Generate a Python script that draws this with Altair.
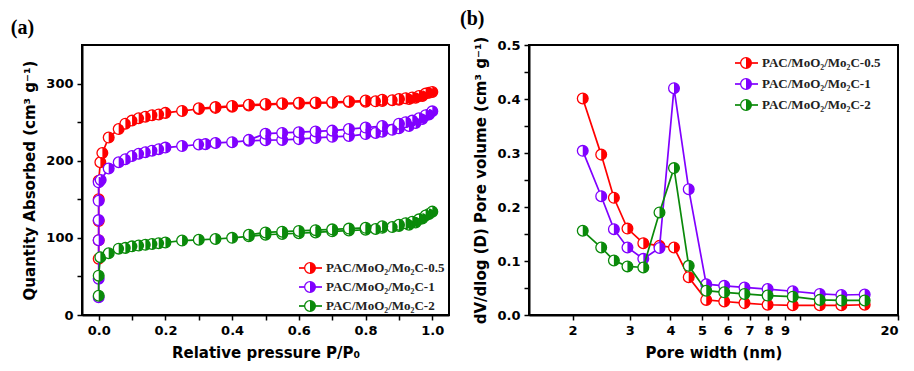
import altair as alt
import pandas as pd

# ---------------- data ----------------
SAMPLES = ["PAC/MoO₂/Mo₂C-0.5", "PAC/MoO₂/Mo₂C-1", "PAC/MoO₂/Mo₂C-2"]
COLORS = ["#FF0000", "#8000FF", "#0A8A0A"]

# (a) N2 isotherms: adsorption / desorption branches
red_ads_p = [0.0, 0.0, 0.0, 0.0, 0.0, 0.005, 0.011, 0.03, 0.06, 0.08, 0.10, 0.12, 0.14, 0.16, 0.18, 0.20,
             0.25, 0.30, 0.35, 0.40, 0.45, 0.50, 0.55, 0.60, 0.65, 0.70, 0.75, 0.80, 0.83, 0.85, 0.88,
             0.90, 0.93, 0.95, 0.97, 0.99]
red_ads_q = [73, 97, 122, 150, 174, 198, 210, 230, 241, 248, 252, 255, 257, 259, 260, 262,
             264.5, 267, 268.5, 270, 271.5, 272.5, 273.5, 274, 274.5, 275, 276, 276.5, 277, 277.5, 278.5,
             279, 280, 281.5, 284, 288]
red_des_p = [1.0, 0.98, 0.96, 0.94, 0.92, 0.90, 0.85, 0.80, 0.75, 0.70, 0.65, 0.60, 0.55, 0.50, 0.45, 0.40, 0.35, 0.30]
red_des_q = [289, 287, 284, 282, 281, 280, 279, 278, 277, 276, 275.5, 275, 274.5, 273.5, 272.5, 271, 269.5, 268]

pur_ads_p = [0.0, 0.0, 0.0, 0.0, 0.0, 0.0, 0.006, 0.03, 0.06, 0.08, 0.10, 0.12, 0.14, 0.16, 0.18, 0.20,
             0.25, 0.30, 0.32, 0.35, 0.40, 0.45, 0.50, 0.55, 0.60, 0.65, 0.70, 0.75, 0.80, 0.83, 0.85,
             0.88, 0.90, 0.93, 0.95, 0.97, 0.99]
pur_ads_q = [23, 47, 97, 123, 148, 172, 175, 190, 198, 202, 206, 209, 211, 213, 215, 217,
             219, 221, 221.5, 223, 224, 226, 226.5, 227, 228, 229.5, 231, 232, 234.5, 236, 237.5,
             240, 242, 245, 249, 254, 260]
pur_des_p = [1.0, 0.98, 0.96, 0.94, 0.92, 0.90, 0.85, 0.80, 0.75, 0.70, 0.65, 0.60, 0.55, 0.50, 0.45]
pur_des_q = [264, 259, 255, 252, 250, 248, 245, 243, 241, 239, 238, 237, 236, 235, 227]

grn_ads_p = [0.0, 0.0, 0.005, 0.03, 0.06, 0.08, 0.10, 0.12, 0.14, 0.16, 0.18, 0.20, 0.25, 0.30, 0.35, 0.40,
             0.45, 0.50, 0.55, 0.60, 0.65, 0.70, 0.75, 0.80, 0.83, 0.85, 0.88, 0.90, 0.93, 0.95, 0.97, 0.99]
grn_ads_q = [25, 51, 75, 80, 86, 87, 89, 90, 91, 92, 93, 94, 96.5, 97.5, 98.5, 100,
             102, 104, 105, 106, 107, 108.5, 109.5, 110.5, 111.5, 113, 114, 115.5, 117, 120, 125, 131]
grn_des_p = [1.0, 0.98, 0.96, 0.94, 0.92, 0.90, 0.85, 0.80, 0.75, 0.70, 0.65, 0.60, 0.55, 0.50, 0.45]
grn_des_q = [134, 129, 124, 121, 119, 117, 115, 113, 112, 111, 110, 109, 108, 107, 104]

# (b) pore size distribution
PORE_W = [2.15, 2.45, 2.68, 2.95, 3.3, 3.7, 4.1, 4.55, 5.15, 5.85, 6.75, 7.95, 9.5, 11.5, 13.4, 15.8]
red_psd = [0.401, 0.297, 0.217, 0.160, 0.133, 0.128, 0.125, 0.070, 0.028, 0.025, 0.022, 0.019, 0.018, 0.018, 0.018, 0.019]
pur_psd = [0.304, 0.220, 0.159, 0.125, 0.104, 0.124, 0.420, 0.233, 0.057, 0.054, 0.051, 0.048, 0.044, 0.039, 0.037, 0.038]
grn_psd = [0.156, 0.125, 0.101, 0.090, 0.088, 0.190, 0.272, 0.091, 0.045, 0.042, 0.039, 0.036, 0.034, 0.028, 0.027, 0.027]

A_XTICKS = [0.0, 0.1, 0.2, 0.3, 0.4, 0.5, 0.6, 0.7, 0.8, 0.9, 1.0]
A_YTICKS = [0, 50, 100, 150, 200, 250, 300]
B_XTICKS = [2, 3, 4, 5, 6, 7, 8, 9, 10, 20]
B_YTICKS = [0, 0.05, 0.1, 0.15, 0.2, 0.25, 0.3, 0.35, 0.4, 0.45, 0.5]

# ---------------- tables ----------------
iso = {
    SAMPLES[0]: [(red_ads_p, red_ads_q), (red_des_p, red_des_q)],
    SAMPLES[1]: [(pur_ads_p, pur_ads_q), (pur_des_p, pur_des_q)],
    SAMPLES[2]: [(grn_ads_p, grn_ads_q), (grn_des_p, grn_des_q)],
}
rows = []
for s, branches in iso.items():
    for b, (ps, qs) in enumerate(branches):
        for i, (p, q) in enumerate(zip(ps, qs)):
            rows.append({"sample": s, "branch": b, "ord": i, "p": p, "q": q})
df_a = pd.DataFrame(rows)

rows = []
for s, vals in zip(SAMPLES, [red_psd, pur_psd, grn_psd]):
    for i, (w, v) in enumerate(zip(PORE_W, vals)):
        rows.append({"sample": s, "branch": 0, "ord": i, "w": w, "v": v})
df_b = pd.DataFrame(rows)

df_leg = pd.DataFrame({"sample": SAMPLES, "idx": [0, 1, 2]})

cscale = alt.Scale(domain=SAMPLES, range=COLORS)
HALF = "M0,-1A1,1,0,0,1,0,1Z"
MSIZE = 115
AXFONT = "DejaVu Sans"


def series(df, xenc, yenc):
    layers = []
    for s in SAMPLES:
        base = alt.Chart(df).transform_filter(alt.datum.sample == s)
        line = base.mark_line(strokeWidth=1.7).encode(
            x=xenc, y=yenc,
            color=alt.Color("sample:N", scale=cscale, legend=None),
            detail="branch:N", order="ord:Q")
        ring = base.mark_point(shape="circle", filled=True, size=MSIZE, strokeWidth=1.3, opacity=1).encode(
            x=xenc, y=yenc, fill=alt.value("white"),
            stroke=alt.Color("sample:N", scale=cscale, legend=None))
        half = base.mark_point(shape=HALF, filled=True, size=MSIZE, strokeWidth=0, opacity=1).encode(
            x=xenc, y=yenc, fill=alt.Color("sample:N", scale=cscale, legend=None))
        layers += [line, ring, half]
    return layers


def legend(x0, y0, dy):
    base = alt.Chart(df_leg).transform_calculate(ly=f"{y0} + {dy} * datum.idx")
    yl = alt.Y("ly:Q", scale=None, axis=None)
    rule = base.mark_rule(strokeWidth=1.7).encode(
        x=alt.value(x0), x2=alt.value(x0 + 23), y=yl,
        color=alt.Color("sample:N", scale=cscale, legend=None))
    ring = base.mark_point(shape="circle", filled=True, size=MSIZE, strokeWidth=1.3, opacity=1).encode(
        x=alt.value(x0 + 11), y=yl, fill=alt.value("white"),
        stroke=alt.Color("sample:N", scale=cscale, legend=None))
    half = base.mark_point(shape=HALF, filled=True, size=MSIZE, strokeWidth=0, opacity=1).encode(
        x=alt.value(x0 + 11), y=yl, fill=alt.Color("sample:N", scale=cscale, legend=None))
    text = base.mark_text(align="left", baseline="middle", font="Liberation Serif",
                          fontWeight="bold", fontSize=13, color="#222222").encode(
        x=alt.value(x0 + 27), y=yl, text="sample:N")
    return [rule, ring, half, text]


# ---------------- panel (a) ----------------
xa = alt.X("p:Q", scale=alt.Scale(domain=[-0.05, 1.05], nice=False, zero=False),
           axis=alt.Axis(values=A_XTICKS, title="Relative pressure P/P₀",
                         labelExpr="round(datum.value*10) % 2 == 0 ? format(datum.value, '.1f') : ''"))
ya = alt.Y("q:Q", scale=alt.Scale(domain=[0, 350], nice=False),
           axis=alt.Axis(values=A_YTICKS, title="Quantity Absorbed (cm³ g⁻¹)",
                         labelExpr="datum.value % 100 == 0 ? datum.label : ''"))

panel_a = alt.layer(*series(df_a, xa, ya), *legend(217, 223, 19)).properties(
    width=367, height=270,
    title=alt.TitleParams("(a)", anchor="start", dx=-12, font="Liberation Serif",
                          fontSize=20, fontWeight="bold", offset=7, color="black"))

# ---------------- panel (b) ----------------
xb = alt.X("w:Q", scale=alt.Scale(type="log", domain=[1.47, 20], nice=False),
           axis=alt.Axis(values=B_XTICKS, title="Pore width (nm)",
                         labelExpr="datum.value == 10 ? '' : format(datum.value, 'd')"))
yb = alt.Y("v:Q", scale=alt.Scale(domain=[0, 0.5], nice=False),
           axis=alt.Axis(values=B_YTICKS, title="dV/dlog (D) Pore volume (cm³ g⁻¹)",
                         labelExpr="round(datum.value*100) % 10 == 0 ? format(datum.value, '.1f') : ''"))

panel_b = alt.layer(*series(df_b, xb, yb), *legend(206, 18, 21)).properties(
    width=369, height=270,
    title=alt.TitleParams("(b)", anchor="start", dx=-14, font="Liberation Serif",
                          fontSize=20, fontWeight="bold", offset=7, color="black"))

chart = alt.hconcat(panel_a, panel_b, spacing=8).properties(
    background="white",
    padding={"left": 1, "top": 0, "right": 0, "bottom": 5},
).configure_view(
    stroke="black", strokeWidth=2
).configure_axis(
    labelFont=AXFONT, labelFontWeight="bold", labelFontSize=13, labelColor="black",
    titleFont=AXFONT, titleFontWeight="bold", titleFontSize=15, titleColor="black",
    domainColor="black", domainWidth=2, tickColor="black", tickWidth=1.5, tickSize=5,
    grid=False, labelPadding=4, titlePadding=8,
)

chart.save("out.html", embed_options={"renderer": "svg", "actions": False})
